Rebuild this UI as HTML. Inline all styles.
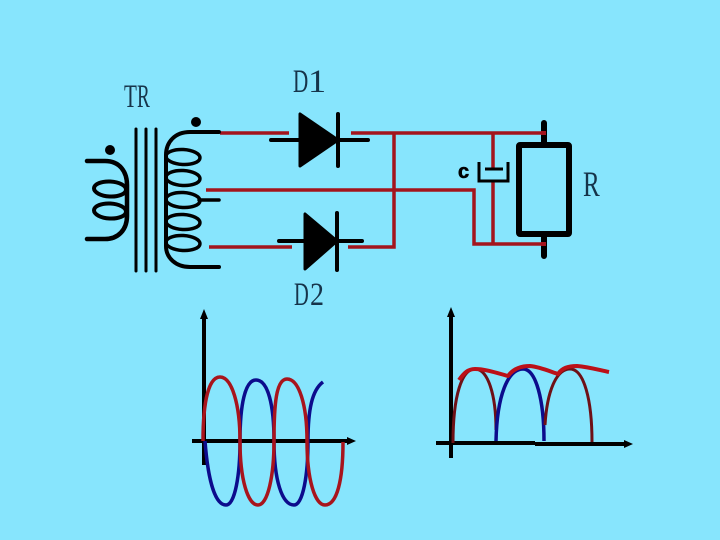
<!DOCTYPE html>
<html><head><meta charset="utf-8"><style>
html,body{margin:0;padding:0;background:#87e5fd}
svg{display:block}
</style></head><body>
<svg width="720" height="540" viewBox="0 0 720 540" xmlns="http://www.w3.org/2000/svg">
<rect width="720" height="540" fill="#87e5fd"/>
<!-- labels -->
<g font-family="'Liberation Serif', serif" font-size="33" fill="#16344a">
<text transform="translate(124,107) scale(0.64,1)">T</text>
<text transform="translate(137,107) scale(0.58,1)">R</text>
<text transform="translate(293,92) scale(0.64,1)">D</text>
<text transform="translate(308,92) scale(1.1,1)">1</text>
<text transform="translate(294,305) scale(0.62,1)">D</text>
<text transform="translate(310,305) scale(0.85,1)">2</text>
<text transform="translate(583,196) scale(0.76,1.08)">R</text>
</g>
<text x="458" y="178" font-family="'Liberation Sans', sans-serif" font-weight="bold" font-size="20" fill="#000" stroke="#000" stroke-width="0.6">c</text>
<!-- red wires -->
<g fill="none" stroke="#a3141c" stroke-width="3.5">
<path d="M220,133H289M351,133H545M206,190H474V244H545M209,247H292M348,247H394V133M493,133V169M493,180V244"/>
</g>
<!-- transformer -->
<g fill="none" stroke="#000" stroke-linecap="round">
<path stroke-width="3" d="M136,129V271M146,129V271M156,129V271"/>
<path stroke-width="4.5" d="M87,161H105C120,161 127,172 127,185V216C127,230 118,239 105,239H87"/>
<ellipse cx="110" cy="189" rx="16" ry="7.5" stroke-width="4" transform="rotate(3 110 189)"/>
<ellipse cx="110" cy="211" rx="16" ry="7.5" stroke-width="4" transform="rotate(3 110 211)"/>
<path stroke-width="4" d="M219,132H190C175,132 166,142 166,155V246C166,258 176,267 190,267H219"/>
<ellipse cx="183" cy="157" rx="17" ry="7.5" stroke-width="3.5" transform="rotate(3 183 157)"/>
<ellipse cx="183" cy="178" rx="17" ry="7.5" stroke-width="3.5" transform="rotate(3 183 178)"/>
<ellipse cx="183" cy="200" rx="17" ry="7.5" stroke-width="3.5" transform="rotate(3 183 200)"/>
<ellipse cx="183" cy="222" rx="17" ry="7.5" stroke-width="3.5" transform="rotate(3 183 222)"/>
<ellipse cx="183" cy="243" rx="17" ry="7.5" stroke-width="3.5" transform="rotate(3 183 243)"/>
<path stroke-width="3.5" d="M199,200H219"/>
</g>
<circle cx="110" cy="150" r="5" fill="#000"/>
<circle cx="196" cy="122" r="5" fill="#000"/>
<!-- diodes -->
<g fill="#000" stroke="#000" stroke-linejoin="round" stroke-linecap="round" stroke-width="3">
<path d="M300,114V166L338,140Z"/>
<path d="M305,214V269L337,241Z"/>
<path fill="none" stroke-width="4" d="M338,114V166M271,140H300M338,140H368M337,213V270M279,241H305M337,241H362"/>
</g>
<!-- capacitor -->
<path fill="none" stroke="#000" stroke-width="3" d="M479,162V181H508V162M485,169H503"/>
<!-- resistor -->
<rect x="519" y="145" width="50" height="89" rx="1" fill="none" stroke="#000" stroke-width="6"/>
<path stroke="#000" stroke-width="6" stroke-linecap="round" d="M544,123V145M544,234V256"/>
<path stroke="#a3141c" stroke-width="4" d="M541,133H546M541,244H546"/>
<!-- graph 1 -->
<g fill="none">
<path stroke="#000" stroke-width="4" d="M204,318V465M192,441H350"/>
<path fill="#000" d="M204,309L208,319H200Z M356,441L347,437V445Z"/>
<path stroke="#0c0c8c" stroke-width="3.5" d="M205,441C208,480 215,505 226,505C235,505 240,475 240,441C240,405 245,380 256,380C268,380 274,405 274,441C274,480 282,505 294,505C303,505 308,475 308,441C308,410 312,390 323,382"/>
<path stroke="#a8141c" stroke-width="3.5" d="M203,441C203,400 209,377 220,377C232,377 240,405 240,441C240,480 248,505 258,505C268,505 274,475 274,441C274,405 276,379 287,379C299,379 307,405 307,441C307,480 315,505 325,505C337,505 343,480 343,442"/>
</g>
<!-- graph 2 -->
<g fill="none">
<path stroke="#000" stroke-width="4" d="M451,316V458M436,443H535M535,444H627"/>
<path fill="#000" d="M451,307L455,317H447Z M633,444L624,440V448Z"/>
<path stroke="#6e1016" stroke-width="3" d="M453,443C453,395 462,369 475,369C488,369 496,395 496,430"/>
<path stroke="#0c0c8c" stroke-width="3.5" d="M496,441C497,395 508,369 523,369C536,369 544,400 544,441"/>
<path stroke="#6e1016" stroke-width="3" d="M545,425C547,392 556,369 570,369C584,369 592,400 592,442"/>
<path stroke="#bb1018" stroke-width="4" stroke-linejoin="round" d="M459,380C464,373 468,369 475,369C485,369 497,373 508,376C513,369 520,366 530,366C540,367 549,371 558,374C562,368 568,366 577,366C589,367 599,370 609,372"/>
</g>
</svg>
</body></html>
